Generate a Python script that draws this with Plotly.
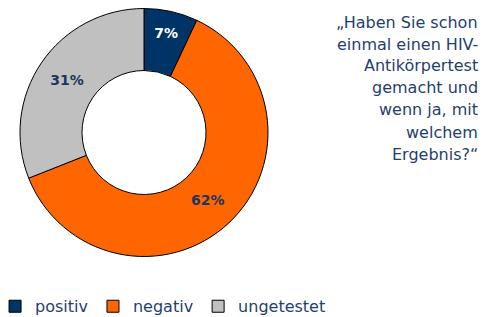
import plotly.graph_objects as go

categories = ["positiv", "negativ", "ungetestet"]
values = [7, 62, 31]
colors = ["#003366", "#FF6600", "#C0C0C0"]
label_colors = ["#FFFFFF", "#17375E", "#17375E"]
question_lines = ["„Haben Sie schon", "einmal einen HIV-", "Antikörpertest",
                  "gemacht und", "wenn ja, mit", "welchem", "Ergebnis?“"]

W, H = 495, 317
fig = go.Figure()
fig.add_trace(go.Pie(
    labels=categories, values=values, hole=0.5, sort=False,
    direction="clockwise", rotation=0,
    marker=dict(colors=colors, line=dict(color="#000000", width=1)),
    texttemplate="%{value}%", textposition="inside",
    insidetextorientation="horizontal",
    textfont=dict(family="DejaVu Sans", size=14, color=label_colors, weight="bold"),
    domain=dict(x=[20 / W, 268 / W], y=[1 - 258 / H, 1 - 7 / H]),
))

top = 27
for i, line in enumerate(question_lines):
    fig.add_annotation(
        text=line, xref="paper", yref="paper",
        x=480 / W, y=1 - (top + 22 * i) / H,
        xanchor="right", yanchor="middle", yshift=5, showarrow=False,
        font=dict(family="DejaVu Sans", size=16, color="#1F3F6F"), align="right",
    )

fig.update_layout(
    width=W, height=H, margin=dict(l=0, r=0, t=0, b=0, autoexpand=False),
    paper_bgcolor="white", plot_bgcolor="white",
    showlegend=True,
    legend=dict(orientation="h", x=-0.01, xanchor="left", y=-0.02, yanchor="bottom",
                font=dict(family="DejaVu Sans", size=16, color="#1F3F6F"),
                itemwidth=30, tracegroupgap=0),
)
fig.write_html("out.html", config={"displayModeBar": False},
               post_script="document.body.style.margin='0';")
